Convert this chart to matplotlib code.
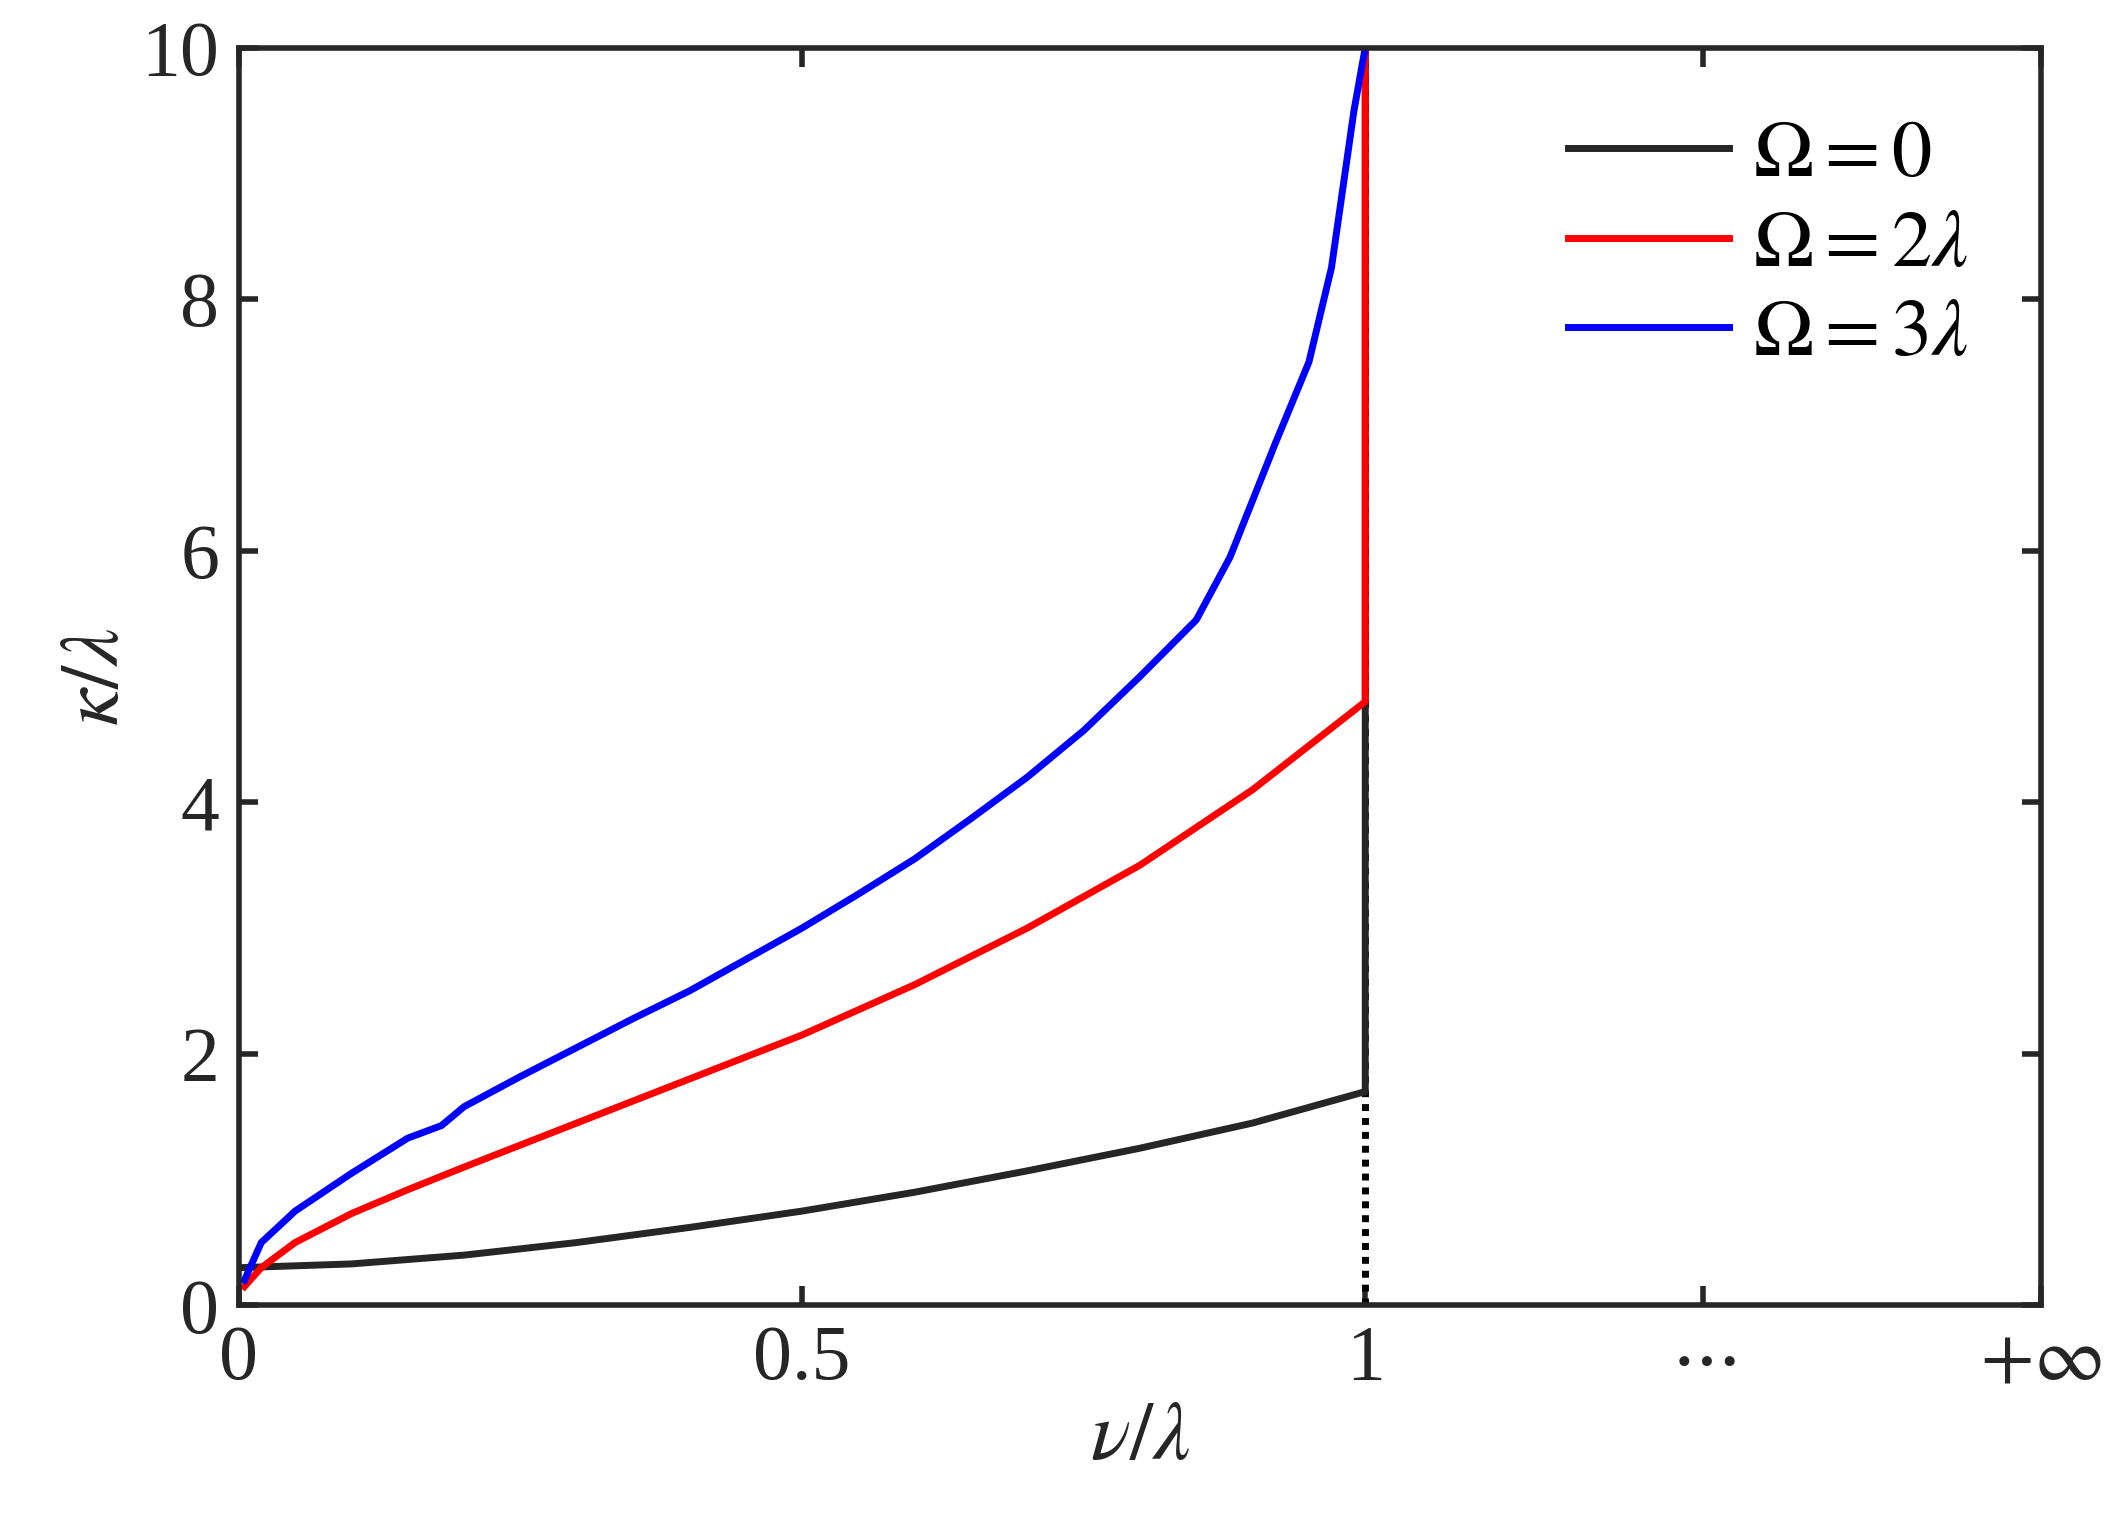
import numpy as np
import matplotlib.pyplot as plt

plt.rcParams['font.family'] = 'Liberation Serif'
plt.rcParams['mathtext.fontset'] = 'stix'

# curves
x_black = [0.0, 0.1, 0.2, 0.3, 0.4, 0.5, 0.6, 0.7, 0.8, 0.9, 1.0, 1.0]
y_black = [0.3, 0.33, 0.4, 0.5, 0.62, 0.75, 0.9, 1.07, 1.25, 1.45, 1.7, 10.0]

x_red = [0.005, 0.02, 0.05, 0.1, 0.15, 0.2, 0.3, 0.4, 0.5, 0.6, 0.7, 0.8, 0.9, 0.95, 1.0, 1.0]
y_red = [0.15, 0.3, 0.5, 0.73, 0.92, 1.1, 1.45, 1.8, 2.15, 2.55, 3.0, 3.5, 4.1, 4.45, 4.8, 10.0]

x_blue = [0.005, 0.02, 0.05, 0.1, 0.15, 0.18, 0.2, 0.25, 0.3, 0.35, 0.4, 0.45, 0.5,
          0.55, 0.6, 0.65, 0.7, 0.75, 0.8, 0.85, 0.88, 0.92, 0.95, 0.97, 0.99, 1.0]
y_blue = [0.2, 0.5, 0.75, 1.05, 1.33, 1.43, 1.58, 1.82, 2.05, 2.28, 2.5, 2.75, 3.0,
          3.27, 3.55, 3.87, 4.2, 4.57, 5.0, 5.45, 5.95, 6.85, 7.5, 8.25, 9.5, 10.0]

xticks = [0, 0.5, 1, 1.3, 1.6]
xlabels = ['0', '0.5', '1', r'$\cdots$', r'$+\infty$']
yticks = [0, 2, 4, 6, 8, 10]

fig = plt.figure(figsize=(21.13, 15.34), dpi=100)
ax = fig.add_axes([0.113, 0.149, 0.853, 0.82])

ax.plot([1, 1], [0, 10], color='black', lw=5, ls=(0, (1, 1)))
ax.plot(x_black, y_black, color='#262626', lw=5, label=r'$\Omega = 0$')
ax.plot(x_red, y_red, color='#ff0000', lw=5, label=r'$\Omega = 2\lambda$')
ax.plot(x_blue, y_blue, color='#0000ff', lw=5, label=r'$\Omega = 3\lambda$')

ax.set_xlim(0, 1.6)
ax.set_ylim(0, 10)
ax.set_xticks(xticks)
ax.set_xticklabels(xlabels)
ax.set_yticks(yticks)
ax.tick_params(direction='in', length=14, width=4, labelsize=56, colors='#262626',
               top=True, right=True, pad=14)
for s in ax.spines.values():
    s.set_linewidth(4)
    s.set_color('#262626')

ax.set_xlabel(r'$\nu/\lambda$', fontsize=60, color='#262626')
ax.set_ylabel(r'$\kappa/\lambda$', fontsize=60, color='#262626')

ax.legend(loc='upper right', frameon=False, fontsize=58, handlelength=2.0,
          borderaxespad=0.5, labelspacing=0.2, handletextpad=0.3)

fig.savefig('out.png', dpi=100)
